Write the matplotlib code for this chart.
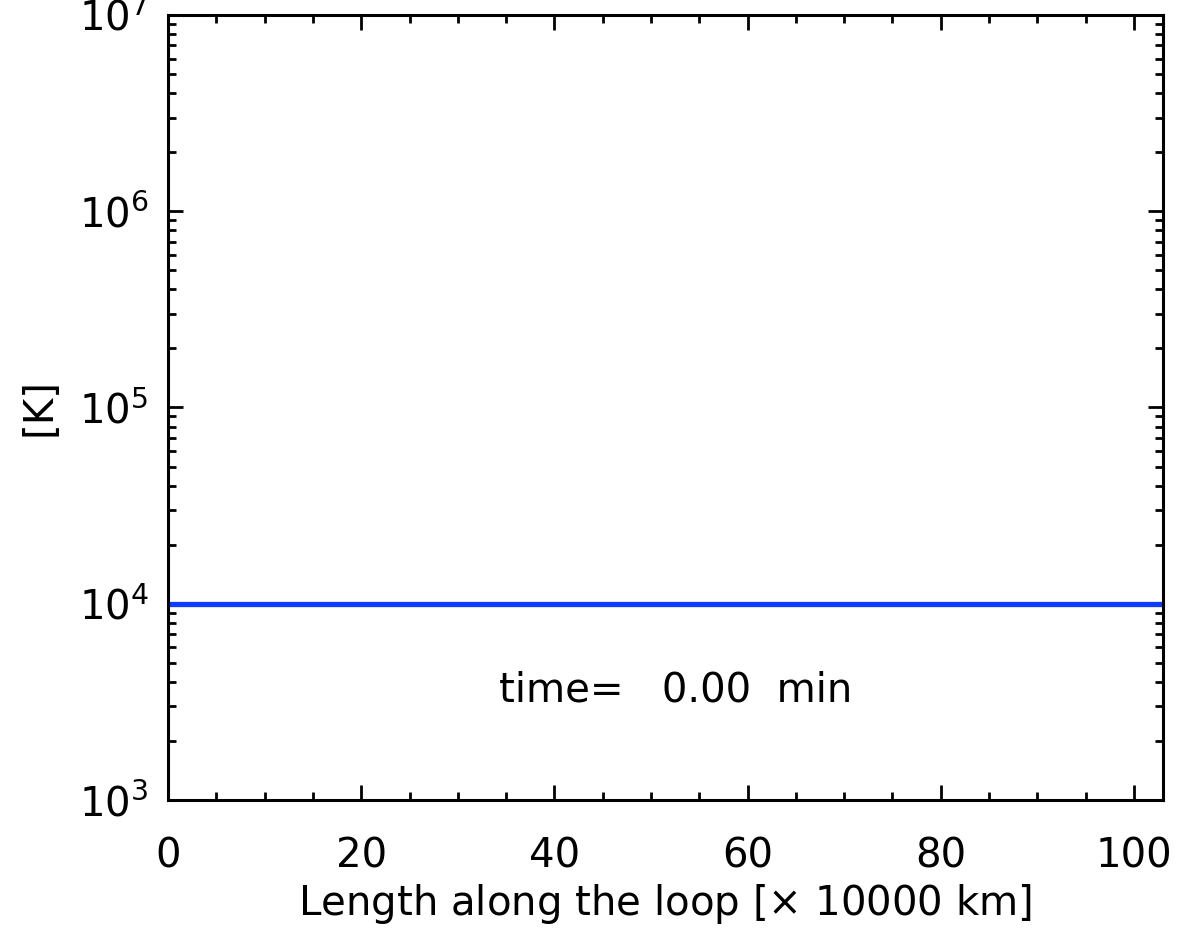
import numpy as np
import matplotlib.pyplot as plt
from matplotlib.ticker import MultipleLocator, LogLocator, NullFormatter

# loop coordinate [x 10000 km] and temperature [K] at t = 0
loop_length = [0.0, 103.0]
temperature = [1.0e4, 1.0e4]
time_min = 0.00

fig = plt.figure(figsize=(11.79, 9.31), dpi=100)
ax = fig.add_axes([0.1425, 0.1407, 0.8439, 0.8432])

ax.plot(loop_length, temperature, color='#0f3cff', lw=3.8, solid_capstyle='butt')

ax.set_yscale('log')
ax.set_xlim(0, 103)
ax.set_ylim(1e3, 1e7)

ax.xaxis.set_major_locator(MultipleLocator(20))
ax.xaxis.set_minor_locator(MultipleLocator(5))
ax.yaxis.set_major_locator(LogLocator(base=10, numticks=10))
ax.yaxis.set_minor_locator(LogLocator(base=10, subs=np.arange(2, 10), numticks=10))
ax.yaxis.set_minor_formatter(NullFormatter())

ax.tick_params(which='both', direction='in', top=True, right=True, width=2, labelsize=29, colors='black')
ax.tick_params(which='major', length=11)
ax.tick_params(which='minor', length=5.5)
ax.tick_params(axis='x', which='major', pad=26)
ax.tick_params(axis='y', which='major', pad=14)
for s in ax.spines.values():
    s.set_linewidth(2.2)

ax.set_xlabel(r'Length along the loop [$\times$ 10000 km]', fontsize=29, labelpad=4)
ax.set_ylabel('[K]', fontsize=29, labelpad=14)

ax.text(52.5, 3600, 'time=   %.2f  min' % time_min, fontsize=29, ha='center', va='center')

fig.savefig('out.png', dpi=100)
